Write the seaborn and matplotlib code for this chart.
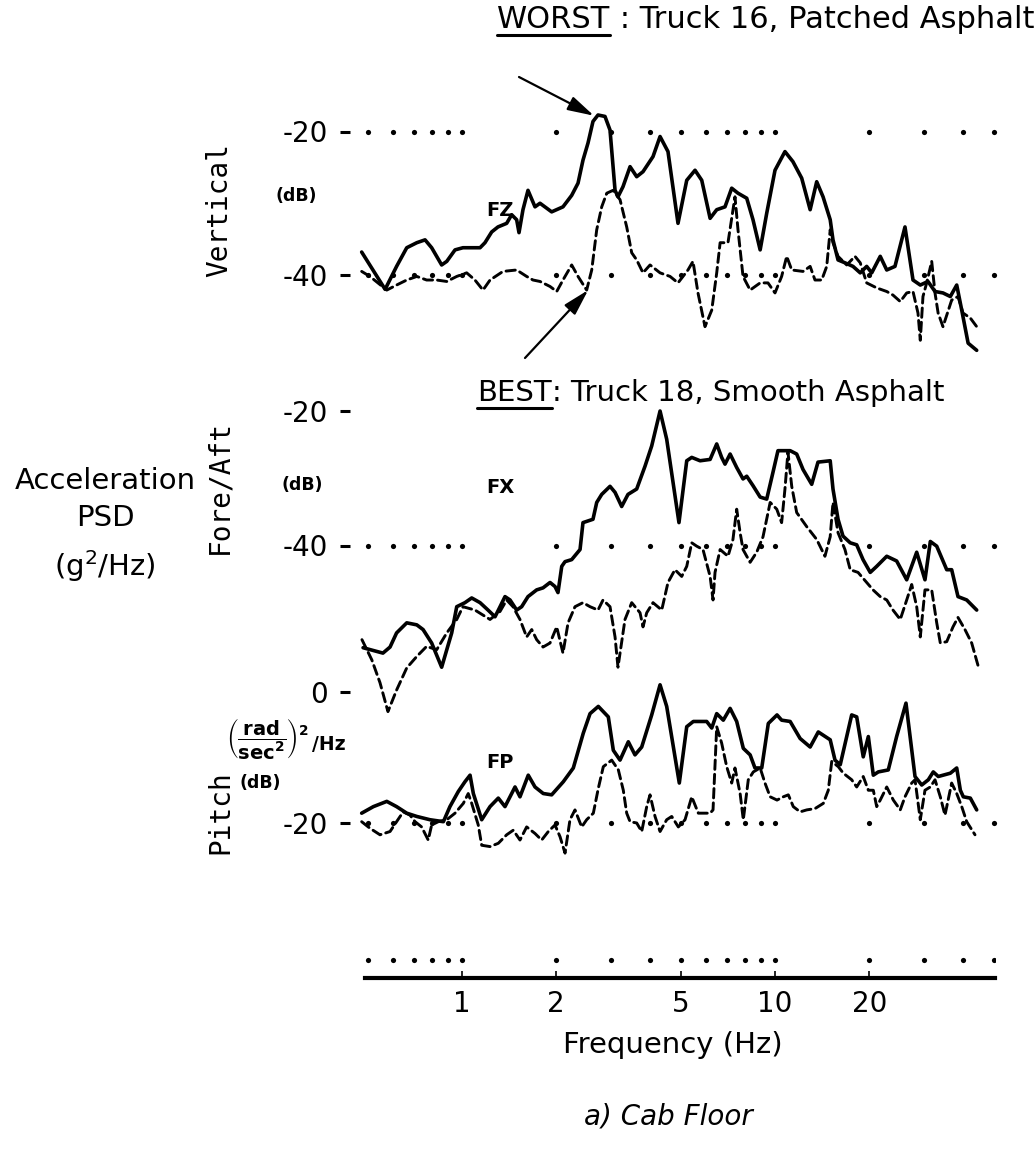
import numpy as np
import matplotlib
matplotlib.use("Agg")
import matplotlib.pyplot as plt
from matplotlib.lines import Line2D
from matplotlib.ticker import FixedLocator, FixedFormatter, NullLocator
import seaborn as sns

# ---------------------------------------------------------------- data
# Vertical acceleration PSD (dB) -- worst case (solid) and best case (dashed)
vert_worst_hz = [0.478, 0.568, 0.618, 0.666, 0.717, 0.762, 0.800, 0.861, 0.894, 0.950,
                 1.007, 1.142, 1.184, 1.244, 1.303, 1.389, 1.441, 1.495, 1.521, 1.566,
                 1.625, 1.711, 1.775, 1.934, 2.102, 2.241, 2.348, 2.435, 2.527, 2.621,
                 2.720, 2.863, 2.971, 3.083, 3.150, 3.268, 3.443, 3.615, 3.787, 4.076,
                 4.293, 4.551, 4.899, 5.224, 5.553, 5.834, 6.204, 6.513, 6.923, 7.272,
                 7.617, 8.122, 8.506, 8.965, 9.408, 10.0, 10.76, 11.41, 12.17, 12.95,
                 13.59, 14.24, 15.01, 15.32, 15.90, 16.73, 17.75, 18.72, 19.63, 20.37,
                 21.69, 22.75, 24.17, 26.02, 27.60, 29.12, 30.82, 32.45, 34.41, 36.32,
                 38.07, 39.5, 41.4, 44.1]
vert_worst_db = [-36.8, -42.0, -38.8, -36.2, -35.5, -35.1, -36.2, -38.6, -38.1, -36.5,
                 -36.2, -36.2, -35.5, -34.0, -33.3, -32.8, -31.6, -32.3, -34.1, -30.9,
                 -28.2, -30.5, -30.0, -31.2, -30.5, -28.9, -27.2, -24.0, -21.6, -18.6,
                 -17.7, -17.9, -19.8, -28.2, -29.1, -27.7, -24.9, -26.3, -25.6, -23.5,
                 -20.7, -22.8, -32.8, -26.8, -25.4, -26.8, -32.1, -30.9, -30.5, -27.9,
                 -28.6, -29.3, -32.3, -36.5, -31.4, -25.4, -22.8, -24.2, -26.5, -30.9,
                 -27.0, -29.1, -32.3, -35.1, -37.9, -38.3, -38.8, -39.7, -38.8, -39.7,
                 -37.4, -39.3, -38.8, -33.3, -40.7, -41.4, -40.9, -42.3, -42.5, -43.0,
                 -41.4, -44.9, -49.5, -50.5]
vert_best_hz = [0.478, 0.508, 0.575, 0.618, 0.666, 0.717, 0.771, 0.830, 0.894, 0.962,
                1.035, 1.100, 1.167, 1.229, 1.352, 1.495, 1.609, 1.686, 1.775, 1.911,
                2.007, 2.102, 2.241, 2.348, 2.502, 2.597, 2.694, 2.795, 2.900, 3.038,
                3.198, 3.359, 3.485, 3.615, 3.787, 3.988, 4.293, 4.621, 4.899, 5.272,
                5.470, 5.675, 5.975, 6.279, 6.513, 6.678, 7.076, 7.45, 7.617, 7.904,
                8.328, 8.965, 9.497, 10.0, 10.50, 10.90, 11.31, 12.29, 12.95, 13.42,
                14.10, 14.63, 15.01, 15.32, 15.90, 16.95, 18.01, 18.72, 19.63, 21.13,
                22.75, 23.82, 25.13, 26.35, 27.60, 28.63, 29.12, 29.7, 30.52, 31.67,
                32.45, 33.2, 34.41, 36.68, 38.43, 39.87, 42.08, 44.1]
vert_best_db = [-39.5, -40.2, -42.1, -41.4, -40.7, -40.2, -40.7, -40.7, -40.9, -40.2,
                -39.7, -40.7, -42.1, -40.7, -39.5, -39.3, -40.2, -40.7, -40.9, -41.6,
                -42.3, -40.7, -38.6, -40.2, -42.1, -39.3, -33.7, -30.5, -28.6, -28.2,
                -29.5, -33.3, -36.9, -37.9, -39.7, -38.6, -39.7, -40.2, -41.1, -39.3,
                -38.1, -42.5, -47.2, -44.9, -39.7, -35.5, -35.5, -29.1, -33.7, -40.2,
                -42.1, -41.1, -41.1, -42.5, -40.2, -37.4, -39.3, -39.5, -38.8, -40.7,
                -40.7, -38.8, -33.7, -35.5, -37.4, -38.6, -37.4, -38.3, -41.1, -41.8,
                -42.3, -42.8, -43.7, -42.5, -42.3, -45.3, -49.1, -43.0, -41.1, -38.1,
                -42.5, -45.3, -47.2, -43.5, -43.0, -45.3, -46.0, -47.2]

# Fore/aft acceleration PSD (dB)
fore_worst_hz = [0.483, 0.559, 0.589, 0.618, 0.666, 0.717, 0.751, 0.800, 0.861, 0.894,
                 0.927, 0.962, 1.022, 1.074, 1.142, 1.211, 1.275, 1.323, 1.372, 1.424,
                 1.495, 1.551, 1.625, 1.732, 1.815, 1.911, 1.982, 2.026, 2.083, 2.134,
                 2.241, 2.383, 2.435, 2.621, 2.694, 2.795, 2.971, 3.083, 3.237, 3.391,
                 3.615, 3.844, 4.037, 4.293, 4.508, 4.934, 5.224, 5.420, 5.763, 6.204,
                 6.513, 6.754, 6.923, 7.188, 7.544, 7.904, 8.122, 8.506, 8.965, 9.408,
                 9.854, 10.22, 11.18, 11.73, 12.29, 13.10, 13.72, 15.01, 15.32, 15.90,
                 16.49, 17.39, 18.24, 19.11, 20.15, 21.13, 22.75, 24.47, 26.35, 28.36,
                 30.14, 31.35, 32.86, 35.37, 36.68, 38.43, 40.97, 44.1]
fore_worst_db = [-55.2, -56.0, -55.1, -53.0, -51.5, -51.8, -52.5, -54.5, -58.1, -55.5,
                 -53.0, -49.1, -48.5, -47.8, -48.5, -49.6, -50.6, -49.1, -47.6, -48.1,
                 -49.6, -49.1, -47.6, -46.6, -46.3, -45.5, -46.1, -47.0, -43.1, -42.4,
                 -42.1, -40.6, -36.6, -36.1, -33.6, -32.4, -31.2, -32.1, -34.2, -32.4,
                 -31.6, -28.2, -25.2, -20.0, -24.2, -36.6, -27.4, -26.9, -27.4, -27.2,
                 -24.9, -26.9, -27.9, -26.4, -28.4, -30.1, -29.7, -31.1, -32.8, -33.1,
                 -29.1, -25.9, -25.9, -26.4, -28.7, -30.9, -27.6, -27.4, -31.6, -36.1,
                 -38.6, -39.6, -39.9, -42.1, -44.0, -43.1, -41.6, -42.3, -45.1, -41.0,
                 -45.1, -39.4, -40.1, -43.6, -43.6, -47.6, -48.1, -49.6]
fore_best_hz = [0.479, 0.515, 0.547, 0.580, 0.618, 0.666, 0.717, 0.771, 0.830, 0.894,
                0.962, 1.007, 1.100, 1.229, 1.323, 1.389, 1.455, 1.532, 1.609, 1.670,
                1.732, 1.815, 1.911, 2.007, 2.102, 2.182, 2.296, 2.435, 2.565, 2.720,
                2.822, 2.971, 3.083, 3.150, 3.317, 3.485, 3.705, 3.787, 3.892, 4.076,
                4.346, 4.551, 4.79, 5.034, 5.224, 5.420, 5.622, 5.888, 6.204, 6.339,
                6.433, 6.678, 7.076, 7.339, 7.544, 7.737, 7.904, 8.328, 8.74, 9.156,
                9.650, 10.13, 10.50, 10.76, 11.00, 11.31, 11.73, 12.63, 13.59, 14.44,
                15.01, 15.32, 15.90, 16.73, 17.39, 18.42, 19.63, 20.57, 21.69, 22.75,
                23.82, 25.13, 26.35, 27.34, 28.36, 29.12, 30.14, 31.67, 32.86, 33.74,
                35.37, 37.04, 38.43, 40.45, 42.5, 44.5]
fore_best_db = [-54.0, -57.0, -60.4, -64.7, -61.5, -58.2, -56.5, -55.0, -55.5, -53.0,
                -51.0, -49.1, -49.6, -51.0, -49.8, -48.1, -49.1, -51.0, -53.6, -52.5,
                -54.0, -55.1, -54.5, -52.1, -56.0, -51.5, -49.1, -48.5, -49.1, -49.6,
                -48.1, -49.1, -53.6, -58.1, -51.0, -48.5, -50.0, -52.1, -50.0, -48.5,
                -49.6, -45.5, -43.6, -44.6, -43.1, -39.6, -40.1, -40.6, -44.6, -48.1,
                -44.0, -40.6, -41.6, -39.1, -34.6, -38.1, -40.6, -42.5, -41.0, -38.7,
                -33.6, -34.6, -36.6, -31.6, -26.1, -31.2, -35.1, -37.2, -39.1, -41.6,
                -38.7, -33.6, -38.1, -40.6, -43.6, -44.0, -45.5, -46.6, -47.6, -48.1,
                -49.6, -51.0, -48.1, -45.8, -49.1, -53.6, -46.6, -46.6, -51.5, -54.5,
                -54.3, -52.1, -50.7, -52.5, -54.5, -57.8]

# Pitch acceleration PSD (dB)
pitch_worst_hz = [0.478, 0.521, 0.575, 0.618, 0.666, 0.717, 0.790, 0.872, 0.915, 0.973,
                  1.022, 1.061, 1.087, 1.156, 1.229, 1.306, 1.372, 1.477, 1.532, 1.628,
                  1.711, 1.818, 1.934, 2.107, 2.268, 2.440, 2.565, 2.726, 2.934, 3.044,
                  3.198, 3.399, 3.570, 3.751, 4.037, 4.293, 4.508, 4.946, 5.224, 5.483,
                  6.050, 6.279, 6.513, 6.836, 7.188, 7.544, 7.92, 8.328, 8.63, 9.07,
                  9.52, 10.15, 10.50, 11.18, 12.03, 12.95, 13.75, 15.01, 15.55, 16.16,
                  17.58, 18.24, 19.14, 19.87, 20.61, 21.38, 23.01, 24.47, 26.21, 28.01,
                  29.43, 30.89, 32.04, 33.24, 36.32, 38.07, 39.10, 39.96, 42.08, 44.1]
pitch_worst_db = [-18.5, -17.5, -16.7, -17.5, -18.5, -19.0, -19.5, -19.8, -17.5, -15.2,
                  -13.7, -12.7, -15.5, -19.5, -17.5, -16.2, -17.5, -14.5, -16.0, -12.7,
                  -14.5, -15.5, -15.7, -13.7, -11.6, -6.3, -3.3, -2.2, -3.8, -8.9,
                  -10.4, -7.6, -9.6, -8.4, -3.5, 1.1, -2.2, -13.9, -5.3, -4.5,
                  -4.5, -5.5, -3.3, -4.3, -2.5, -4.5, -8.6, -9.6, -11.6, -11.6,
                  -4.8, -3.5, -4.3, -4.5, -7.1, -8.4, -6.1, -7.3, -10.4, -11.1,
                  -3.5, -3.8, -9.9, -6.8, -12.7, -12.2, -11.9, -6.8, -1.7, -12.9,
                  -14.2, -13.4, -12.2, -12.9, -12.4, -11.6, -15.0, -16.0, -16.2, -18.0]
pitch_best_hz = [0.478, 0.508, 0.547, 0.589, 0.618, 0.649, 0.682, 0.708, 0.743, 0.780,
                 0.800, 0.840, 0.894, 0.950, 1.010, 1.047, 1.074, 1.127, 1.156, 1.229,
                 1.306, 1.389, 1.458, 1.532, 1.609, 1.711, 1.797, 1.887, 1.982, 2.057,
                 2.134, 2.213, 2.296, 2.412, 2.502, 2.628, 2.726, 2.828, 3.008, 3.159,
                 3.276, 3.359, 3.443, 3.615, 3.751, 3.892, 3.988, 4.137, 4.293, 4.508,
                 4.677, 4.911, 5.159, 5.420, 5.689, 6.204, 6.339, 6.513, 6.754, 7.01,
                 7.272, 7.45, 7.737, 7.92, 8.216, 8.525, 8.965, 9.29, 9.650, 10.15,
                 10.63, 11.03, 11.44, 12.03, 12.63, 13.42, 14.27, 14.80, 15.18, 15.93,
                 16.53, 17.58, 18.24, 19.14, 19.87, 20.61, 21.13, 21.69, 22.75, 23.88,
                 25.13, 26.02, 27.34, 28.01, 29.12, 30.14, 31.35, 32.45, 33.74, 34.92,
                 36.68, 38.07, 39.5, 40.97, 43.55]
pitch_best_db = [-19.8, -20.8, -21.8, -21.3, -19.8, -18.3, -18.8, -19.8, -20.6, -22.6,
                 -20.3, -19.8, -19.5, -18.5, -17.0, -15.5, -17.0, -20.3, -23.4, -23.6,
                 -23.1, -21.8, -21.1, -22.6, -20.6, -21.6, -22.6, -21.3, -20.3, -22.1,
                 -24.6, -19.5, -18.0, -20.6, -19.5, -18.5, -14.7, -11.4, -10.4, -11.9,
                 -15.0, -18.5, -19.8, -20.0, -21.3, -17.5, -15.7, -19.0, -21.3, -19.5,
                 -19.0, -20.6, -19.5, -16.0, -18.5, -18.5, -18.0, -5.3, -7.8, -11.4,
                 -13.9, -11.6, -15.5, -19.5, -13.4, -12.2, -11.6, -13.9, -16.0, -16.5,
                 -16.0, -15.7, -17.5, -18.3, -18.0, -17.8, -17.0, -15.0, -10.6, -11.4,
                 -12.4, -13.4, -14.5, -12.9, -15.0, -15.0, -17.5, -16.5, -14.5, -16.5,
                 -18.0, -16.0, -13.9, -13.4, -19.5, -15.0, -14.5, -13.4, -16.0, -18.8,
                 -13.9, -15.5, -17.5, -19.8, -21.8]

# Axis annotation values
grid_hz = [0.5, 0.6, 0.7, 0.8, 0.9, 1, 2, 3, 4, 5, 6, 7, 8, 9, 10, 20, 30, 40, 50]
freq_ticks = [1, 2, 5, 10, 20]
freq_labels = ["1", "2", "5", "10", "20"]
vert_ticks, vert_labels = [-20, -40], ["-20", "-40"]
fore_ticks, fore_labels = [-20, -40], ["-20", "-40"]
pitch_ticks, pitch_labels = [0, -20], ["0", "-20"]
vert_dot_levels = [-20, -40]
fore_dot_levels = [-40]
pitch_dot_levels = [-20]

# ---------------------------------------------------------------- layout
W, H = 1035, 1149
sns.set_theme(style="white")
plt.rcParams["font.family"] = ["DejaVu Sans"]
plt.rcParams["mathtext.fontset"] = "dejavusans"
for key in ("text.color", "axes.labelcolor", "xtick.color", "ytick.color"):
    plt.rcParams[key] = "black"

fig = plt.figure(figsize=(W / 100, H / 100), dpi=100)
fig.patch.set_facecolor("white")

X_ONE_HZ = 462.0       # pixel column of 1 Hz
PX_DECADE = 313.0      # pixels per decade of frequency
F_LO, F_HI = 0.45, 55.0
TICK_END = 350.0       # pixel column where the y tick dashes end


def col(f):
    return X_ONE_HZ + PX_DECADE * np.log10(f)


def ftext(xp, yp, s, **kw):
    kw.setdefault("color", "black")
    return fig.text(xp / W, 1 - yp / H, s, **kw)


def make_panel(ya, yb, va, vb, lo, hi, ticks, labels):
    """Axes whose value va sits on pixel row ya and vb on row yb."""
    ppd = (yb - ya) / (va - vb)
    top = ya - (hi - va) * ppd
    bot = ya + (va - lo) * ppd
    x0, x1 = col(F_LO), col(F_HI)
    ax = fig.add_axes([x0 / W, 1 - bot / H, (x1 - x0) / W, (bot - top) / H])
    ax.set_xscale("log")
    ax.set_xlim(F_LO, F_HI)
    ax.set_ylim(lo, hi)
    ax.patch.set_alpha(0)
    for s in ax.spines.values():
        s.set_visible(False)
    ax.spines["left"].set_position(("outward", (x0 - TICK_END) * 0.72))
    ax.xaxis.set_visible(False)
    ax.yaxis.set_major_locator(FixedLocator(ticks))
    ax.yaxis.set_major_formatter(FixedFormatter(labels))
    ax.yaxis.set_minor_locator(NullLocator())
    ax.tick_params(axis="y", left=True, direction="out", length=7.2, width=2.2,
                   pad=9, labelsize=20, colors="black")
    ax.grid(False)
    return ax


def draw_pair(ax, hz_a, db_a, hz_b, db_b, dot_levels):
    for lvl in dot_levels:
        sns.scatterplot(x=grid_hz, y=[lvl] * len(grid_hz), ax=ax, color="black",
                        s=14, linewidth=0, legend=False, zorder=2)
    sns.lineplot(x=hz_a, y=db_a, ax=ax, color="black", linewidth=2.6,
                 estimator=None, sort=False, legend=False, zorder=3)
    ax.lines[-1].set_solid_joinstyle("round")
    sns.lineplot(x=hz_b, y=db_b, ax=ax, color="black", linewidth=2.1,
                 estimator=None, sort=False, legend=False, zorder=3)
    ln = ax.lines[-1]
    ln.set_dashes((3.2, 1.7))
    ln.set_dash_capstyle("round")
    ax.set_xlabel("")
    ax.set_ylabel("")


ax_v = make_panel(131.5, 275.0, -20, -40, -55, -10, vert_ticks, vert_labels)
ax_f = make_panel(411.0, 545.5, -20, -40, -70, -10, fore_ticks, fore_labels)
ax_p = make_panel(692.0, 823.0, 0, -20, -30, 10, pitch_ticks, pitch_labels)

draw_pair(ax_v, vert_worst_hz, vert_worst_db, vert_best_hz, vert_best_db, vert_dot_levels)
draw_pair(ax_f, fore_worst_hz, fore_worst_db, fore_best_hz, fore_best_db, fore_dot_levels)
draw_pair(ax_p, pitch_worst_hz, pitch_worst_db, pitch_best_hz, pitch_best_db, pitch_dot_levels)

# frequency axis at the bottom
bx0, bx1 = col(0.49), col(50.5)
by_top, by_bot = 945.0, 978.0
ax_b = fig.add_axes([bx0 / W, 1 - by_bot / H, (bx1 - bx0) / W, (by_bot - by_top) / H])
ax_b.set_xscale("log")
ax_b.set_xlim(0.49, 50.5)
ax_b.set_ylim(0, 1)
ax_b.patch.set_alpha(0)
for name, s in ax_b.spines.items():
    s.set_visible(name == "bottom")
ax_b.spines["bottom"].set_linewidth(3.0)
ax_b.spines["bottom"].set_color("black")
ax_b.yaxis.set_visible(False)
ax_b.xaxis.set_major_locator(FixedLocator(freq_ticks))
ax_b.xaxis.set_major_formatter(FixedFormatter(freq_labels))
ax_b.xaxis.set_minor_locator(NullLocator())
ax_b.tick_params(axis="x", bottom=True, direction="in", length=5, width=1.2,
                 pad=9, labelsize=20, colors="black")
sns.scatterplot(x=grid_hz, y=[(by_bot - 960.0) / (by_bot - by_top)] * len(grid_hz),
                ax=ax_b, color="black", s=14, linewidth=0, legend=False)
ax_b.grid(False)

# ---------------------------------------------------------------- labels
ftext(673, 1045, "Frequency (Hz)", fontsize=21, ha="center", va="center")
ftext(668, 1116, "a) Cab Floor", fontsize=20, ha="center", va="center", style="italic")

ftext(105, 481, "Acceleration", fontsize=21, ha="center", va="center")
ftext(105, 518, "PSD", fontsize=21, ha="center", va="center")
ftext(105, 566, "(g$^2$/Hz)", fontsize=21, ha="center", va="center")

mono = "DejaVu Sans Mono"
ftext(219, 210, "Vertical", fontsize=20, family=mono, rotation=90, ha="center", va="center")
ftext(219, 487, "Fore/Aft", fontsize=20, family=mono, rotation=90, ha="center", va="center")
ftext(220, 812, "Pitch", fontsize=20, family=mono, rotation=90, ha="center", va="center")

ftext(296, 196, "(dB)", fontsize=12.5, weight="bold", ha="center", va="center")
ftext(302, 485, "(dB)", fontsize=12.5, weight="bold", ha="center", va="center")
ftext(260, 783, "(dB)", fontsize=12.5, weight="bold", ha="center", va="center")

# pitch unit: fraction followed by "/Hz" placed just after its extent
unit = ftext(226, 738,
             r"$\left(\dfrac{\mathbf{rad}}{\mathbf{sec}^{\mathbf{2}}}\right)^{\mathbf{2}}$",
             fontsize=14, ha="left", va="center")
fig.canvas.draw()
ub = unit.get_window_extent()
ftext(ub.x1 + 3, 745, "/Hz", fontsize=13.5, weight="bold", ha="left", va="center")

ftext(500, 211, "FZ", fontsize=14, weight="bold", ha="center", va="center")
ftext(500, 487, "FX", fontsize=14, weight="bold", ha="center", va="center")
ftext(500, 763, "FP", fontsize=14, weight="bold", ha="center", va="center")


def underlined_heading(x_left, y_base, head, rest, size):
    t = ftext(x_left, y_base, head, fontsize=size, ha="left", va="baseline")
    fig.canvas.draw()
    bb = t.get_window_extent()
    ftext(bb.x1, y_base, rest, fontsize=size, ha="left", va="baseline")
    yl = y_base + 7
    fig.add_artist(Line2D([bb.x0 / W, bb.x1 / W], [1 - yl / H, 1 - yl / H],
                          transform=fig.transFigure, color="black", lw=2.2))


underlined_heading(497, 28, "WORST", " : Truck 16, Patched Asphalt", 22)
underlined_heading(477, 401, "BEST", ": Truck 18, Smooth Asphalt", 21)

arrow = dict(arrowstyle="-|>,head_length=0.8,head_width=0.22", color="black",
             lw=1.6, shrinkA=0, shrinkB=0, mutation_scale=20)
ax_v.annotate("", xy=(2.64, -17.8), xycoords="data",
              xytext=(519, H - 77), textcoords="figure pixels", arrowprops=arrow)
ax_v.annotate("", xy=(2.53, -42.1), xycoords="data",
              xytext=(525, H - 358), textcoords="figure pixels", arrowprops=arrow)

fig.savefig("out.png", dpi=100, facecolor="white")
